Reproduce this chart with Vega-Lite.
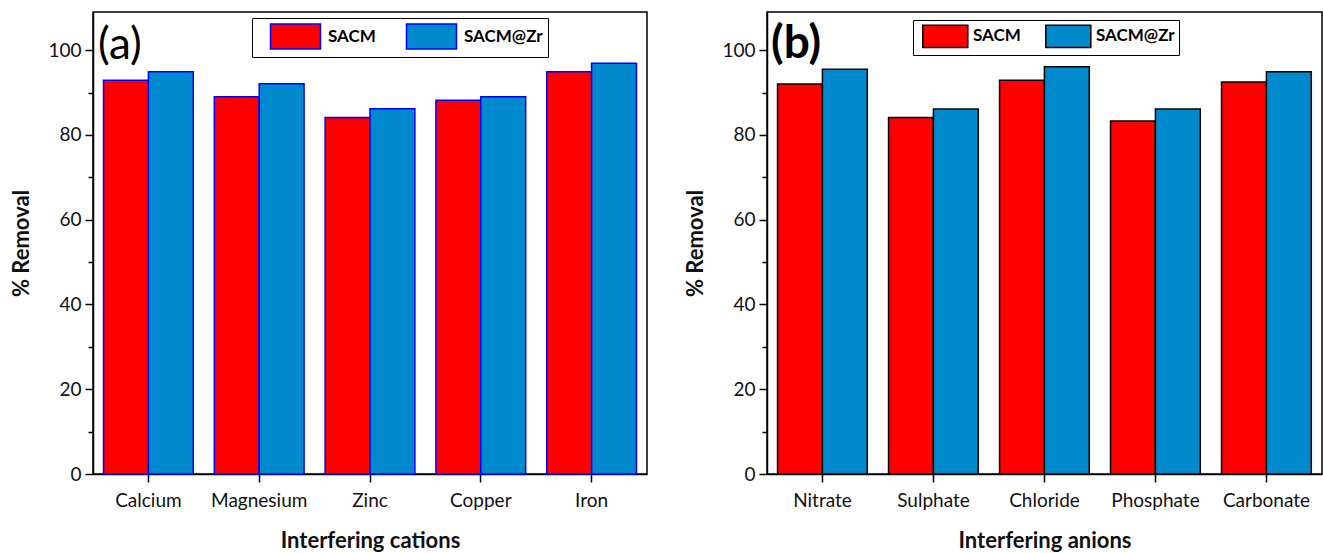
{
  "$schema": "https://vega.github.io/schema/vega-lite/v6.json",
  "background": "white",
  "padding": {"left": 10, "top": 11, "right": 0, "bottom": 0},
  "config": {
    "font": "Lato",
    "view": {"stroke": "black", "strokeWidth": 1.5},
    "concat": {"spacing": 36},
    "axis": {
      "grid": false,
      "domainColor": "black",
      "domainWidth": 1.5,
      "tickColor": "black",
      "tickWidth": 1.5,
      "labelColor": "#111",
      "labelFont": "Lato",
      "labelFontSize": 19,
      "titleFont": "Lato",
      "titleColor": "#111",
      "titleFontSize": 22,
      "titleFontWeight": "bold"
    },
    "legend": {
      "labelFont": "Lato",
      "labelFontSize": 17,
      "labelFontWeight": "bold",
      "labelColor": "black"
    }
  },
  "datasets": {
    "cations": [
      {"ion": "Calcium", "material": "SACM", "removal": 92.9},
      {"ion": "Calcium", "material": "SACM@Zr", "removal": 94.9},
      {"ion": "Magnesium", "material": "SACM", "removal": 89.0},
      {"ion": "Magnesium", "material": "SACM@Zr", "removal": 92.1},
      {"ion": "Zinc", "material": "SACM", "removal": 84.1},
      {"ion": "Zinc", "material": "SACM@Zr", "removal": 86.2},
      {"ion": "Copper", "material": "SACM", "removal": 88.2},
      {"ion": "Copper", "material": "SACM@Zr", "removal": 89.0},
      {"ion": "Iron", "material": "SACM", "removal": 94.9},
      {"ion": "Iron", "material": "SACM@Zr", "removal": 96.9}
    ],
    "anions": [
      {"ion": "Nitrate", "material": "SACM", "removal": 92.0},
      {"ion": "Nitrate", "material": "SACM@Zr", "removal": 95.5},
      {"ion": "Sulphate", "material": "SACM", "removal": 84.1},
      {"ion": "Sulphate", "material": "SACM@Zr", "removal": 86.1},
      {"ion": "Chloride", "material": "SACM", "removal": 92.9},
      {"ion": "Chloride", "material": "SACM@Zr", "removal": 96.1},
      {"ion": "Phosphate", "material": "SACM", "removal": 83.3},
      {"ion": "Phosphate", "material": "SACM@Zr", "removal": 86.1},
      {"ion": "Carbonate", "material": "SACM", "removal": 92.5},
      {"ion": "Carbonate", "material": "SACM@Zr", "removal": 94.9}
    ]
  },
  "hconcat": [
    {
      "width": 554,
      "height": 462,
      "title": {"text": "(a)", "anchor": "start", "orient": "top", "frame": "group", "offset": -56, "dx": 5, "fontSize": 44, "fontWeight": "normal", "font": "Lato", "color": "black"},
      "data": {"name": "cations"},
      "mark": {"type": "bar", "stroke": "#0000FF", "strokeWidth": 1.5},
      "encoding": {
        "x": {
          "field": "ion", "type": "nominal", "sort": null,
          "scale": {"paddingInner": 0.19, "paddingOuter": 0.095},
          "axis": {"title": "Interfering cations", "labelAngle": 0, "tickSize": 8, "labelPadding": 9, "titlePadding": 20}
        },
        "xOffset": {"field": "material", "type": "nominal", "sort": ["SACM", "SACM@Zr"]},
        "y": {
          "field": "removal", "type": "quantitative",
          "scale": {"domain": [0, 109], "nice": false},
          "axis": {
            "title": "% Removal",
            "values": [0, 10, 20, 30, 40, 50, 60, 70, 80, 90, 100],
            "labelExpr": "datum.value % 20 === 0 ? datum.label : ''",
            "tickSize": {"condition": {"test": "datum.value % 20 === 0", "value": 8}, "value": 5},
            "labelPadding": 4,
            "titlePadding": 14
          }
        },
        "color": {
          "field": "material", "type": "nominal",
          "scale": {"domain": ["SACM", "SACM@Zr"], "range": ["#FF0000", "#0089CC"]},
          "legend": {
            "title": null, "orient": "none", "direction": "horizontal",
            "legendX": 159, "legendY": 6, "padding": 5,
            "strokeColor": "black",
            "symbolType": "M0,-1H4V1H0Z", "symbolSize": 625,
            "symbolStrokeColor": "#0000FF", "symbolStrokeWidth": 1.5,
            "labelOffset": 44, "columnPadding": 17
          }
        }
      }
    },
    {
      "width": 555,
      "height": 462,
      "title": {"text": "(b)", "anchor": "start", "orient": "top", "frame": "group", "offset": -56, "dx": 4, "fontSize": 46, "fontWeight": "bold", "font": "Lato", "color": "black"},
      "data": {"name": "anions"},
      "mark": {"type": "bar", "stroke": "black", "strokeWidth": 1.5},
      "encoding": {
        "x": {
          "field": "ion", "type": "nominal", "sort": null,
          "scale": {"paddingInner": 0.19, "paddingOuter": 0.095},
          "axis": {"title": "Interfering anions", "labelAngle": 0, "tickSize": 8, "labelPadding": 9, "titlePadding": 20}
        },
        "xOffset": {"field": "material", "type": "nominal", "sort": ["SACM", "SACM@Zr"]},
        "y": {
          "field": "removal", "type": "quantitative",
          "scale": {"domain": [0, 109], "nice": false},
          "axis": {
            "title": "% Removal",
            "values": [0, 10, 20, 30, 40, 50, 60, 70, 80, 90, 100],
            "labelExpr": "datum.value % 20 === 0 ? datum.label : ''",
            "tickSize": {"condition": {"test": "datum.value % 20 === 0", "value": 8}, "value": 5},
            "labelPadding": 4,
            "titlePadding": 14
          }
        },
        "color": {
          "field": "material", "type": "nominal",
          "scale": {"domain": ["SACM", "SACM@Zr"], "range": ["#FF0000", "#0089CC"]},
          "legend": {
            "title": null, "orient": "none", "direction": "horizontal",
            "legendX": 146, "legendY": 8, "padding": 4,
            "strokeColor": "black",
            "symbolType": "M-0.55,-1H3.45V1H-0.55Z", "symbolSize": 506,
            "symbolStrokeColor": "black", "symbolStrokeWidth": 1.5,
            "labelOffset": 32, "columnPadding": 19
          }
        }
      }
    }
  ],
  "resolve": {"scale": {"color": "independent"}, "legend": {"color": "independent"}}
}
